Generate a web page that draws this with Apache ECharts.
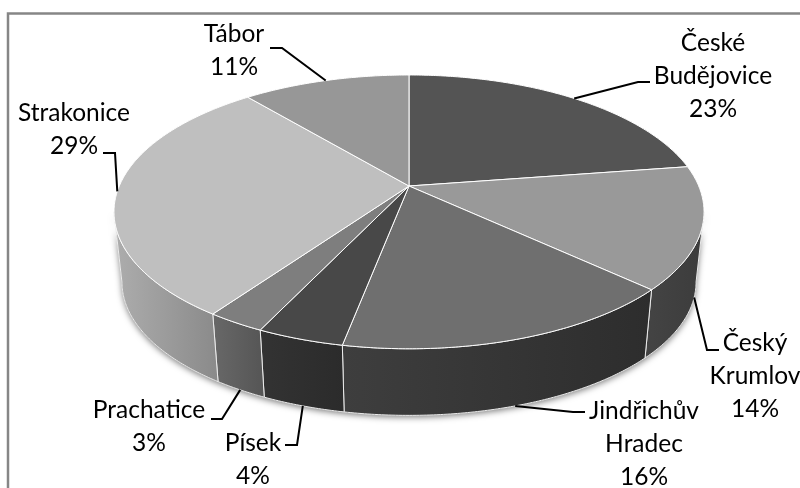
<!DOCTYPE html>
<html><head><meta charset="utf-8">
<style>html,body{margin:0;padding:0;background:#fff}#c{width:800px;height:488px}</style>
<script src="https://cdn.jsdelivr.net/npm/echarts@6/dist/echarts.min.js"></script>
</head><body><div id="c"></div>
<script>
const categories = ['České Budějovice','Český Krumlov','Jindřichův Hradec','Písek','Prachatice','Strakonice','Tábor'];
const labelLines = [['České','Budějovice'],['Český','Krumlov'],['Jindřichův','Hradec'],['Písek'],['Prachatice'],['Strakonice'],['Tábor']];
const values = [22.6,14.4,16,4,2.7,29.3,11];
const topColors = ['#545454','#999999','#6f6f6f','#484848','#7e7e7e','#bfbfbf','#979797'];
const wallColors = [['#3a3a3a','#3a3a3a'],['#444444','#3c3c3c'],['#3e3e3e','#2d2d2d'],['#333333','#2b2b2b'],['#686868','#555555'],['#adadad','#8a8a8a'],['#777777','#777777']];
const labelX = [713,755,644,253,149,74,234];
const labelY = [43.5,343.5,411.5,443.5,410.5,113.5,34.5];
const elbows = [[[638,82],[650,82]],[[707,350],[719,350]],[[573,412],[585,412]],[[297,445],[285,445]],[[222,419],[211,419]],[[115,153],[103,153]],[[282,48],[270,48]]];
const onBottomRim = [false,true,true,true,true,false,false];

// projection of the tilted disc
const apex = [409,186], A = 289.7, B = 132, K = 0.189, wallDrop = 71, wallScale = 0.973;
const total = values.reduce((a,b)=>a+b,0);
function proj(t, low){
  const d = 1 + K*Math.cos(t), s = low ? wallScale : 1;
  return [apex[0] + s*A*Math.sin(t)/d, apex[1] + (low?wallDrop:0) - s*B*Math.cos(t)/d];
}
function arc(t0,t1,low){
  const n = Math.max(2,Math.ceil(Math.abs(t1-t0)/0.01)), pts=[];
  for(let i=0;i<=n;i++) pts.push(proj(t0+(t1-t0)*i/n,low));
  return pts;
}
function range(i){
  let c=0; for(let j=0;j<i;j++) c+=values[j];
  const f=2*Math.PI/total;
  return [c*f,(c+values[i])*f];
}
const visFrom = Math.PI-Math.acos(K), visTo = Math.PI+Math.acos(K);

function renderBacking(){
  return {type:'polygon',shape:{points:arc(visFrom,visTo,false).concat(arc(visTo,visFrom,true))},
    style:{fill:'#555',shadowBlur:6,shadowOffsetY:2,shadowColor:'rgba(0,0,0,0.5)'}};
}
function renderWall(params){
  const i=params.dataIndex; let [t0,t1]=range(i);
  t0=Math.max(t0,visFrom); t1=Math.min(t1,visTo);
  if(t1<=t0) return {type:'group',children:[]};
  const top=arc(t0,t1,false), low=arc(t1,t0,true);
  const xs=top.concat(low).map(p=>p[0]);
  const x0=Math.min(...xs), x1=Math.max(...xs);
  const fill=new echarts.graphic.LinearGradient(x0,0,x1,0,[{offset:0,color:wallColors[i][0]},{offset:1,color:wallColors[i][1]}],true);
  return {type:'polygon',shape:{points:top.concat(low)},
    style:{fill:fill,stroke:'#ececec',lineWidth:1}};
}
function renderTop(params){
  const i=params.dataIndex; const [t0,t1]=range(i);
  return {type:'polygon',shape:{points:[apex].concat(arc(t0,t1,false))},
    style:{fill:topColors[i],stroke:'#ffffff',lineWidth:1}};
}
function renderLabel(params){
  const i=params.dataIndex; const [t0,t1]=range(i);
  const anchor=proj((t0+t1)/2,onBottomRim[i]);
  const lines=labelLines[i].concat([Math.round(values[i]/total*100)+'%']);
  const kids=[{type:'polyline',shape:{points:[anchor].concat(elbows[i])},
    style:{fill:null,stroke:'#000',lineWidth:2}}];
  lines.forEach((s,k)=>kids.push({type:'text',
    style:{text:s,x:labelX[i],y:labelY[i]+k*32.7,fill:'#000',font:'24.5px Lato',align:'center',verticalAlign:'middle'}}));
  return {type:'group',children:kids};
}
const seriesData = categories.map((n,i)=>({name:n,value:values[i]}));
const chart = echarts.init(document.getElementById('c'),null,{renderer:'canvas'});
chart.setOption({
  animation:false,
  backgroundColor:'#ffffff',
  graphic:[{type:'polyline',z:0,shape:{points:[[8,490],[8,13.5],[802,13.5]]},style:{fill:null,stroke:'#868686',lineWidth:2.5}}],
  series:[
    {type:'custom',coordinateSystem:'none',z:1,renderItem:renderBacking,data:[total],silent:true},
    {type:'custom',coordinateSystem:'none',z:2,renderItem:renderWall,data:seriesData,silent:true},
    {type:'custom',coordinateSystem:'none',z:3,renderItem:renderTop,data:seriesData,silent:true},
    {type:'custom',coordinateSystem:'none',z:4,renderItem:renderLabel,data:seriesData,silent:true}
  ]
});
</script></body></html>
